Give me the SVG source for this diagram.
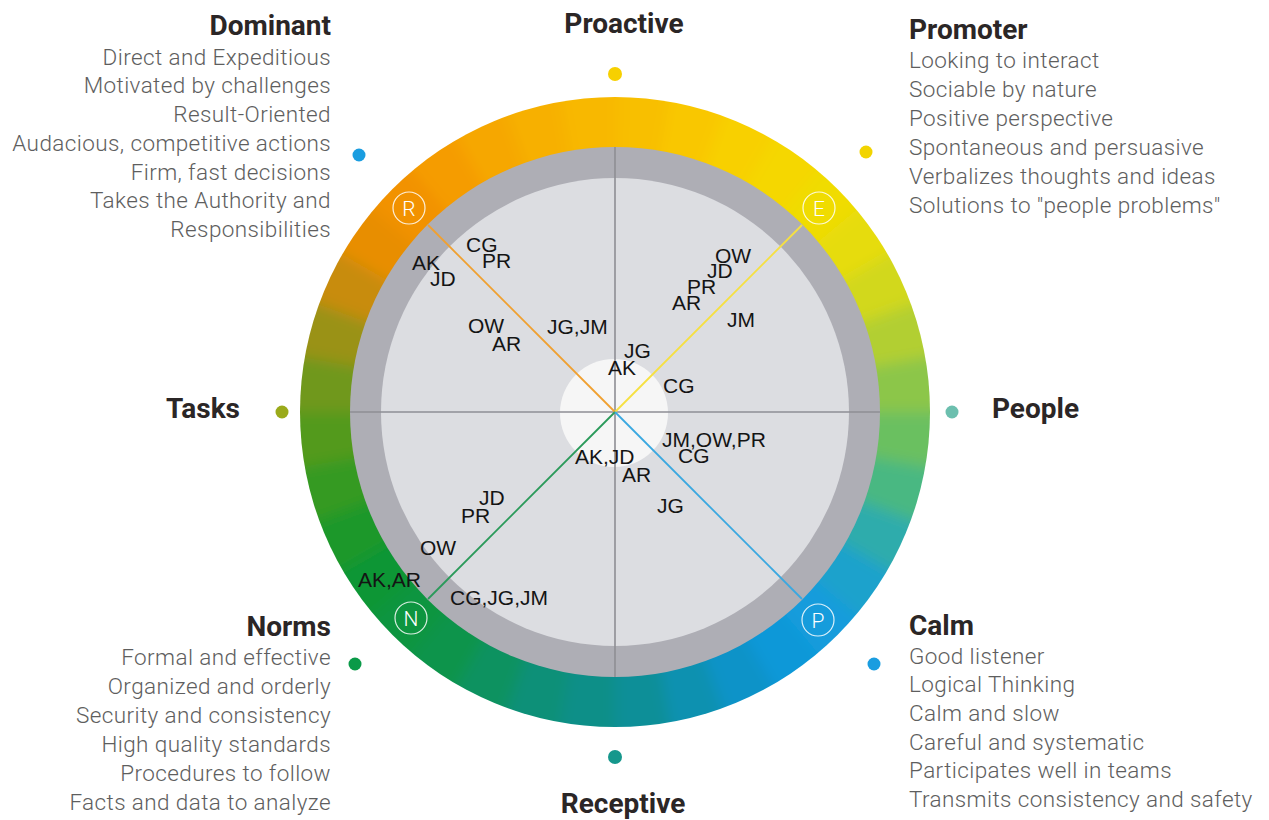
<svg xmlns="http://www.w3.org/2000/svg" width="1269" height="820" viewBox="0 0 1269 820">
<defs>
<style>
.h{font-family:Roboto,"Liberation Sans",sans-serif;font-weight:700;font-size:28px;fill:#2b2626}
.b{font-family:Roboto,"Liberation Sans",sans-serif;font-weight:300;font-size:22.5px;letter-spacing:0.4px;fill:#5e5e5e}
.d{font-family:"Liberation Sans",Arial,sans-serif;font-size:21px;fill:#141414}
.m{font-family:Roboto,"Liberation Sans",sans-serif;font-weight:300;font-size:21px;fill:#fff}
.mc{fill:none;stroke:#fff;stroke-width:1.2;stroke-opacity:0.85}
.seg{fill:none;stroke-width:90;stroke-dasharray:54 2000}
.ax{stroke:#8e8e94;stroke-width:1.6}
</style>
<filter id="bl" x="-20%" y="-20%" width="140%" height="140%"><feGaussianBlur stdDeviation="7"/></filter>
<clipPath id="oc"><circle cx="615" cy="412" r="315"/></clipPath>
</defs>
<rect width="1269" height="820" fill="#fff"/>
<g id="ring" clip-path="url(#oc)">
<g filter="url(#bl)" transform="translate(615 412)">
<circle r="290" class="seg" stroke="#f8bf00" transform="rotate(-90)"/>
<circle r="290" class="seg" stroke="#f9c700" transform="rotate(-80)"/>
<circle r="290" class="seg" stroke="#f8d000" transform="rotate(-70)"/>
<circle r="290" class="seg" stroke="#f5d700" transform="rotate(-60)"/>
<circle r="290" class="seg" stroke="#f0dc00" transform="rotate(-50)"/>
<circle r="290" class="seg" stroke="#e6dc08" transform="rotate(-40)"/>
<circle r="290" class="seg" stroke="#d2d81a" transform="rotate(-30)"/>
<circle r="290" class="seg" stroke="#b2cf30" transform="rotate(-20)"/>
<circle r="290" class="seg" stroke="#8cc64a" transform="rotate(-10)"/>
<circle r="290" class="seg" stroke="#6ac060" transform="rotate(0)"/>
<circle r="290" class="seg" stroke="#48b882" transform="rotate(10)"/>
<circle r="290" class="seg" stroke="#2eacac" transform="rotate(20)"/>
<circle r="290" class="seg" stroke="#1ea2cc" transform="rotate(30)"/>
<circle r="290" class="seg" stroke="#129cdc" transform="rotate(40)"/>
<circle r="290" class="seg" stroke="#0a98d8" transform="rotate(50)"/>
<circle r="290" class="seg" stroke="#0893c8" transform="rotate(60)"/>
<circle r="290" class="seg" stroke="#0a91b0" transform="rotate(70)"/>
<circle r="290" class="seg" stroke="#0c8f98" transform="rotate(80)"/>
<circle r="290" class="seg" stroke="#0f8f88" transform="rotate(90)"/>
<circle r="290" class="seg" stroke="#0e9078" transform="rotate(100)"/>
<circle r="290" class="seg" stroke="#0c9260" transform="rotate(110)"/>
<circle r="290" class="seg" stroke="#0a944c" transform="rotate(120)"/>
<circle r="290" class="seg" stroke="#0a9540" transform="rotate(130)"/>
<circle r="290" class="seg" stroke="#0c9636" transform="rotate(140)"/>
<circle r="290" class="seg" stroke="#1a982c" transform="rotate(150)"/>
<circle r="290" class="seg" stroke="#349a24" transform="rotate(160)"/>
<circle r="290" class="seg" stroke="#529a1e" transform="rotate(170)"/>
<circle r="290" class="seg" stroke="#70981a" transform="rotate(180)"/>
<circle r="290" class="seg" stroke="#9a9214" transform="rotate(190)"/>
<circle r="290" class="seg" stroke="#c88c0c" transform="rotate(200)"/>
<circle r="290" class="seg" stroke="#e88e04" transform="rotate(210)"/>
<circle r="290" class="seg" stroke="#f29200" transform="rotate(220)"/>
<circle r="290" class="seg" stroke="#f59c00" transform="rotate(230)"/>
<circle r="290" class="seg" stroke="#f6a700" transform="rotate(240)"/>
<circle r="290" class="seg" stroke="#f7b000" transform="rotate(250)"/>
<circle r="290" class="seg" stroke="#f8b800" transform="rotate(260)"/>
</g>
</g>
<g id="disc">
<circle cx="615" cy="412" r="265" fill="#aeaeb5"/>
<circle cx="615" cy="412" r="234" fill="#dcdde1"/>
<circle cx="614" cy="413" r="54" fill="#f6f6f6"/>
</g>
<g id="connectors">
<line class="ax" x1="615" y1="147" x2="615" y2="677"/>
<line class="ax" x1="350" y1="412" x2="880" y2="412"/>
<line x1="615" y1="412" x2="428" y2="225" stroke="#f0a030" stroke-width="1.8"/>
<line x1="615" y1="412" x2="802" y2="225" stroke="#f6e040" stroke-width="1.8"/>
<line x1="615" y1="412" x2="428" y2="599" stroke="#2a9a5a" stroke-width="1.8"/>
<line x1="615" y1="412" x2="802" y2="599" stroke="#3aa8e0" stroke-width="1.8"/>
</g>
<g id="marker-R"><circle class="mc" cx="409" cy="208" r="16"/><text class="m" x="409" y="215.5" text-anchor="middle">R</text></g>
<g id="marker-E"><circle class="mc" cx="819" cy="208" r="16"/><text class="m" x="819" y="215.5" text-anchor="middle">E</text></g>
<g id="marker-N"><circle class="mc" cx="411" cy="618" r="16"/><text class="m" x="411" y="625.5" text-anchor="middle">N</text></g>
<g id="marker-P"><circle class="mc" cx="818" cy="620" r="16"/><text class="m" x="818" y="627.5" text-anchor="middle">P</text></g>
<g id="data">
<text class="d" x="466" y="252">CG</text>
<text class="d" x="482" y="268">PR</text>
<text class="d" x="412" y="270">AK</text>
<text class="d" x="430" y="286">JD</text>
<text class="d" x="468" y="333">OW</text>
<text class="d" x="492" y="351">AR</text>
<text class="d" x="547" y="334">JG,JM</text>
<text class="d" x="715" y="263">OW</text>
<text class="d" x="707" y="278">JD</text>
<text class="d" x="687" y="294">PR</text>
<text class="d" x="672" y="310">AR</text>
<text class="d" x="727" y="327">JM</text>
<text class="d" x="624" y="358">JG</text>
<text class="d" x="608" y="375">AK</text>
<text class="d" x="663" y="393">CG</text>
<text class="d" x="662" y="447">JM,OW,PR</text>
<text class="d" x="678" y="463">CG</text>
<text class="d" x="575" y="464">AK,JD</text>
<text class="d" x="622" y="482">AR</text>
<text class="d" x="657" y="513">JG</text>
<text class="d" x="479" y="505">JD</text>
<text class="d" x="461" y="523">PR</text>
<text class="d" x="420" y="555">OW</text>
<text class="d" x="358" y="587">AK,AR</text>
<text class="d" x="450" y="605">CG,JG,JM</text>
</g>
<g id="proactive"><text class="h" x="624" y="33" text-anchor="middle">Proactive</text><circle cx="615" cy="74" r="7" fill="#f7d000"/></g>
<g id="receptive"><circle cx="615" cy="757" r="7" fill="#16978c"/><text class="h" x="623" y="813" text-anchor="middle">Receptive</text></g>
<g id="tasks"><text class="h" x="240" y="418" text-anchor="end">Tasks</text><circle cx="282" cy="412" r="6.5" fill="#9aaa1a"/></g>
<g id="people"><circle cx="952" cy="412" r="6.5" fill="#6cbfae"/><text class="h" x="992" y="418">People</text></g>
<g id="dominant" text-anchor="end">
<text class="h" x="331" y="35">Dominant</text>
<text class="b" x="331" y="65">Direct and Expeditious</text>
<text class="b" x="331" y="93">Motivated by challenges</text>
<text class="b" x="331" y="122">Result-Oriented</text>
<text class="b" x="331" y="151">Audacious, competitive actions</text>
<text class="b" x="331" y="180">Firm, fast decisions</text>
<text class="b" x="331" y="208">Takes the Authority and</text>
<text class="b" x="331" y="237">Responsibilities</text>
<circle cx="359" cy="155" r="6.5" fill="#1a9de0"/>
</g>
<g id="promoter">
<text class="h" x="909" y="39">Promoter</text>
<text class="b" x="909" y="68">Looking to interact</text>
<text class="b" x="909" y="97">Sociable by nature</text>
<text class="b" x="909" y="126">Positive perspective</text>
<text class="b" x="909" y="155">Spontaneous and persuasive</text>
<text class="b" x="909" y="184">Verbalizes thoughts and ideas</text>
<text class="b" x="909" y="213">Solutions to "people problems"</text>
<circle cx="866" cy="152" r="6.5" fill="#f2d400"/>
</g>
<g id="norms" text-anchor="end">
<text class="h" x="331" y="636">Norms</text>
<text class="b" x="331" y="665">Formal and effective</text>
<text class="b" x="331" y="694">Organized and orderly</text>
<text class="b" x="331" y="723">Security and consistency</text>
<text class="b" x="331" y="752">High quality standards</text>
<text class="b" x="331" y="781">Procedures to follow</text>
<text class="b" x="331" y="810">Facts and data to analyze</text>
<circle cx="355" cy="664" r="6.5" fill="#0a9a48"/>
</g>
<g id="calm">
<text class="h" x="909" y="635">Calm</text>
<text class="b" x="909" y="664">Good listener</text>
<text class="b" x="909" y="692">Logical Thinking</text>
<text class="b" x="909" y="721">Calm and slow</text>
<text class="b" x="909" y="750">Careful and systematic</text>
<text class="b" x="909" y="778">Participates well in teams</text>
<text class="b" x="909" y="807">Transmits consistency and safety</text>
<circle cx="874" cy="664" r="6.5" fill="#1a9de0"/>
</g>
</svg>
